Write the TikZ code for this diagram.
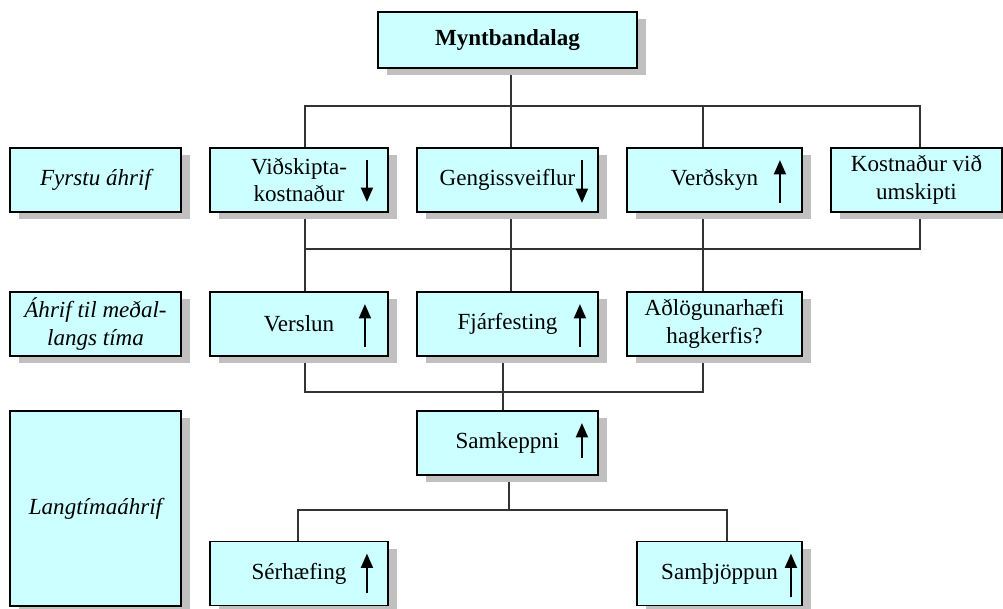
\documentclass[tikz,border=0pt]{standalone}
\usepackage{fontspec}
\setmainfont{Liberation Serif}
\usetikzlibrary{arrows.meta,shadows,backgrounds}
\definecolor{boxfill}{HTML}{CCFFFF}
\definecolor{shadowgray}{HTML}{C0C0C0}
\definecolor{wire}{HTML}{333333}
\tikzset{
  box/.style={draw=black, line width=1.3pt, fill=boxfill, align=center,
    minimum height=1.6cm, inner sep=2pt,
    font=\fontsize{16.4}{19.5}\selectfont,
    drop shadow={shadow xshift=0.22cm, shadow yshift=-0.18cm, fill=shadowgray, opacity=1}},
  side/.style={box, font=\fontsize{16.4}{19.5}\selectfont\itshape},
  link/.style={draw=wire, line width=0.8pt},
  trend/.style={draw=black, line width=1.5pt, -{Triangle[length=0.36cm,width=0.3cm]}},
}

\begin{document}
\begin{tikzpicture}[x=0.025cm, y=-0.025cm]
  \useasboundingbox (0,0) rectangle (1003,609);
  % top
  \node[box, minimum width=6.475cm, minimum height=1.4cm,
    font=\fontsize{16.4}{19.5}\selectfont\bfseries] (myn) at (507.5,40) {Myntbandalag};
  % first effects
  \node[side, minimum width=4.275cm] (fyr) at (95.5,180) {Fyrstu áhrif};
  \node[box, minimum width=4.45cm] (vid) at (299,180) {Viðskipta-\\kostnaður};
  \node[box, minimum width=4.525cm] (gen) at (507.5,180) {Gengissveiflur};
  \node[box, minimum width=4.375cm] (ver) at (714.5,180) {Verðskyn};
  \node[box, minimum width=4.275cm] (kos) at (916.5,180) {Kostnaður við\\umskipti};
  % medium term
  \node[side, minimum width=4.275cm] (ahr) at (95.5,324) {Áhrif til meðal-\\langs tíma};
  \node[box, minimum width=4.45cm] (vsl) at (299,324) {Verslun};
  \node[box, minimum width=4.525cm] (fja) at (507.5,324) {Fjárfesting};
  \node[box, minimum width=4.375cm] (adl) at (714.5,324) {Aðlögunarhæfi\\hagkerfis?};
  % long term
  \node[side, minimum width=4.275cm, minimum height=4.875cm] (lng) at (95.5,508.5) {Langtímaáhrif};
  \node[box, minimum width=4.525cm] (sam) at (507.5,443) {Samkeppni};
  \node[box, minimum width=4.45cm] (ser) at (299,573.5) {Sérhæfing};
  \node[box, minimum width=4.125cm] (smj) at (719.5,573.5) {Samþjöppun};

  % connectors, behind the boxes
  \begin{scope}[on background layer]
    \coordinate (b1) at (0,106);
    \coordinate (b2) at (0,249);
    \coordinate (b3) at (0,392);
    \coordinate (b4) at (0,510);
    \coordinate (cA) at (305,0);
    \coordinate (cB) at (511,0);
    \coordinate (cC) at (703,0);
    \coordinate (cD) at (920,0);
    \coordinate (cE) at (503,0);
    \coordinate (cF) at (509,0);
    \coordinate (cG) at (298,0);
    \coordinate (cH) at (727,0);
    \draw[link] (myn.south -| cB) -- (gen.north -| cB);
    \draw[link] (vid.north -| cA) |- (b1 -| cD) -- (kos.north -| cD);
    \draw[link] (b1 -| cC) -- (ver.north -| cC);
    \draw[link] (vid.south -| cA) -- (vsl.north -| cA);
    \draw[link] (gen.south -| cB) -- (fja.north -| cB);
    \draw[link] (ver.south -| cC) -- (adl.north -| cC);
    \draw[link] (kos.south -| cD) |- (b2 -| cA);
    \draw[link] (vsl.south -| cA) |- (b3 -| cC) -- (adl.south -| cC);
    \draw[link] (fja.south -| cE) -- (sam.north -| cE);
    \draw[link] (sam.south -| cF) -- (b4 -| cF);
    \draw[link] (ser.north -| cG) |- (b4 -| cH) -- (smj.north -| cH);
  \end{scope}

  % trend arrows
  \foreach \n/\dx/\dy in {vid/22/11, gen/17/10}
    \draw[trend] ([shift={(-\dx,13)}]\n.north east) -- ([shift={(-\dx,-\dy)}]\n.south east);
  \foreach \n/\dx/\dy in {ver/23/10, vsl/24/10, fja/19/10, sam/17/18, ser/22/13, smj/12/9}
    \draw[trend] ([shift={(-\dx,-\dy)}]\n.south east) -- ([shift={(-\dx,13)}]\n.north east);
\end{tikzpicture}
\end{document}
